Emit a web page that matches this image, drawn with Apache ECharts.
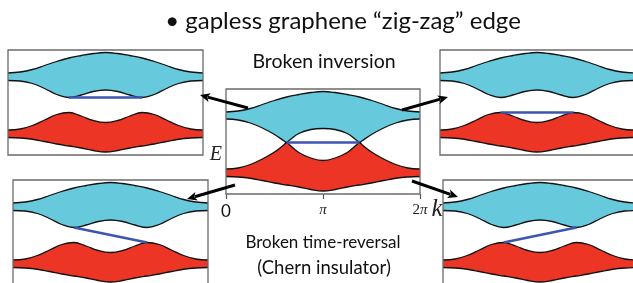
<!DOCTYPE html>
<html>
<head>
<meta charset="utf-8">
<script src="https://cdn.jsdelivr.net/npm/echarts@6/dist/echarts.min.js"></script>
<style>
html, body { margin: 0; padding: 0; background: #fff; }
#chart-one { width: 633px; height: 283px; }
</style>
</head>
<body>
<div id="chart-one"></div>
<script>
// k in units of pi, E in arbitrary units (box spans -1.05 .. 1.05)
var kPts = [0, 0.125, 0.25, 0.375, 0.5, 0.625, 0.75, 0.875, 1, 1.125, 1.25, 1.375, 1.5, 1.625, 1.75, 1.875, 2];
var cyanTop = [0.59, 0.61, 0.66, 0.74, 0.82, 0.89, 0.94, 0.98, 1.00, 0.98, 0.94, 0.89, 0.82, 0.74, 0.66, 0.61, 0.59];
var cyanBotGap = [0.44, 0.43, 0.38, 0.28, 0.16, 0.10, 0.15, 0.22, 0.25, 0.22, 0.15, 0.10, 0.16, 0.28, 0.38, 0.43, 0.44];
var redTopGap = [-0.55, -0.53, -0.46, -0.35, -0.24, -0.20, -0.27, -0.36, -0.40, -0.36, -0.27, -0.20, -0.24, -0.35, -0.46, -0.53, -0.55];
var redBot = [-0.70, -0.71, -0.735, -0.78, -0.83, -0.87, -0.91, -0.96, -0.99, -0.96, -0.91, -0.87, -0.83, -0.78, -0.735, -0.71, -0.70];

// central panel: bands touch at the two crossings
var kCenter = [0, 0.125, 0.25, 0.375, 0.5, 0.6, 0.625, 0.65, 0.75, 0.875, 1, 1.125, 1.25, 1.35, 1.375, 1.4, 1.5, 1.625, 1.75, 1.875, 2];
var cyanBotCross = [0.45, 0.43, 0.37, 0.27, 0.14, 0.01, -0.02, 0.02, 0.16, 0.24, 0.26, 0.24, 0.16, 0.02, -0.02, 0.01, 0.14, 0.27, 0.37, 0.43, 0.45];
var redTopCross = [-0.55, -0.53, -0.46, -0.35, -0.21, -0.06, -0.02, -0.06, -0.22, -0.33, -0.38, -0.33, -0.22, -0.06, -0.02, -0.06, -0.21, -0.35, -0.46, -0.53, -0.55];

// edge states (blue)
var edgeCenter = [[0.625, -0.02], [1.375, -0.02]];
var edgeTopLeft = [[0.625, 0.10], [1.375, 0.10]];
var edgeTopRight = [[0.625, -0.20], [1.375, -0.20]];
var edgeBottomLeft = [[0.625, 0.10], [1.375, -0.20]];
var edgeBottomRight = [[0.625, -0.20], [1.375, 0.10]];

var kTicks = [0, 1, 2];
var kTickLabels = ['{s|0}', '{m|π}', '{n|2}{m|π}'];

var CYAN = '#67c9dc';
var RED = '#ec3525';
var BLUE = '#3d55b2';

function curve(ks, es) {
	return ks.map(function(k, i){ return [k, es[i]]; });
}

var panels = [
	{ box: [226, 89, 194, 105], cyanBot: curve(kCenter, cyanBotCross), redTop: curve(kCenter, redTopCross), edge: edgeCenter, axes: true },
	{ box: [8, 50, 195, 105], cyanBot: curve(kPts, cyanBotGap), redTop: curve(kPts, redTopGap), edge: edgeTopLeft },
	{ box: [440, 50, 194, 105], cyanBot: curve(kPts, cyanBotGap), redTop: curve(kPts, redTopGap), edge: edgeTopRight },
	{ box: [13, 180, 195, 105], cyanBot: curve(kPts, cyanBotGap), redTop: curve(kPts, redTopGap), edge: edgeBottomLeft },
	{ box: [443, 180, 194, 105], cyanBot: curve(kPts, cyanBotGap), redTop: curve(kPts, redTopGap), edge: edgeBottomRight }
];

var LinesChart = function(){
	this.mychart = echarts.init(document.getElementById('chart-one'));

	this.initChart = function(){
		var grids = [], xAxes = [], yAxes = [], series = [], graphic = [];

		panels.forEach(function(p, i){
			grids.push({ left: p.box[0], top: p.box[1], width: p.box[2], height: p.box[3], outerBoundsMode: 'none', containLabel: false });

			xAxes.push({
				gridIndex: i, type: 'value', min: 0, max: 2, interval: 1,
				show: !!p.axes,
				position: 'bottom',
				axisLine: { show: false, onZero: false },
				axisTick: { show: true, length: 5, lineStyle: { color: '#555', width: 1.2 } },
				splitLine: { show: false },
				axisLabel: {
					margin: 9,
					formatter: function(v){ return kTickLabels[kTicks.indexOf(v)]; },
					rich: {
						s: { fontFamily: 'Lato', fontSize: 17, color: '#111' },
						n: { fontFamily: 'Liberation Serif', fontSize: 15, color: '#222' },
						m: { fontFamily: 'Liberation Serif', fontStyle: 'italic', fontSize: 15, color: '#222' }
					}
				},
				name: p.axes ? 'k' : '',
				nameLocation: 'end',
				nameGap: 8,
				nameTextStyle: { fontFamily: 'Liberation Serif', fontStyle: 'italic', fontSize: 25, color: '#222', verticalAlign: 'top', padding: [3, 0, 0, 0] }
			});

			yAxes.push({
				gridIndex: i, type: 'value', min: -1.05, max: 1.05,
				show: !!p.axes,
				axisLine: { show: false, onZero: false }, axisTick: { show: false }, axisLabel: { show: false },
				splitLine: { show: false },
				name: p.axes ? 'E' : '',
				nameLocation: 'middle',
				nameRotate: 0,
				nameGap: 4,
				nameTextStyle: { fontFamily: 'Liberation Serif', fontStyle: 'italic', fontSize: 20, color: '#222', verticalAlign: 'top', padding: [3, 0, 0, 0] }
			});

			var base = { type: 'line', xAxisIndex: i, yAxisIndex: i, symbol: 'none', smooth: 0.4, silent: true,
				lineStyle: { color: '#111', width: 1.3 } };
			// paint order: cyan fill, white gap, red fill, white below
			series.push(Object.assign({}, base, { data: curve(kPts, cyanTop), areaStyle: { color: CYAN, opacity: 1, origin: 'start' } }));
			series.push(Object.assign({}, base, { data: p.cyanBot, areaStyle: { color: '#fff', opacity: 1, origin: 'start' } }));
			series.push(Object.assign({}, base, { data: p.redTop, areaStyle: { color: RED, opacity: 1, origin: 'start' } }));
			series.push(Object.assign({}, base, { data: curve(kPts, redBot), areaStyle: { color: '#fff', opacity: 1, origin: 'start' } }));
			series.push({ type: 'line', xAxisIndex: i, yAxisIndex: i, symbol: 'none', silent: true,
				data: p.edge, lineStyle: { color: BLUE, width: 2.6 } });

			graphic.push({ type: 'rect', z: 100, silent: true,
				shape: { x: p.box[0], y: p.box[1], width: p.box[2], height: p.box[3] },
				style: { fill: 'transparent', stroke: '#6a6a6a', lineWidth: 1.3 } });
		});

		// arrows from the central panel to the four cases
		var arrows = [[248, 108, 200, 95], [402, 110, 448, 97], [235, 185, 187, 199], [412, 181, 458, 197]];
		arrows.forEach(function(a){
			var dx = a[2] - a[0], dy = a[3] - a[1], len = Math.sqrt(dx * dx + dy * dy);
			var ux = dx / len, uy = dy / len, hl = 10, hw = 4.5;
			var bx = a[2] - ux * hl, by = a[3] - uy * hl;
			graphic.push({ type: 'line', z: 110, silent: true,
				shape: { x1: a[0], y1: a[1], x2: bx + ux * 2, y2: by + uy * 2 },
				style: { stroke: '#000', lineWidth: 3 } });
			graphic.push({ type: 'polygon', z: 110, silent: true,
				shape: { points: [[a[2], a[3]], [bx - uy * hw, by + ux * hw], [bx + ux * 2.5, by + uy * 2.5], [bx + uy * hw, by - ux * hw]] },
				style: { fill: '#000' } });
		});

		var texts = [
			['• gapless graphene “zig-zag” edge', 343, 21, 24],
			['Broken inversion', 324, 62, 19.5],
			['Broken time-reversal', 323, 243, 17],
			['(Chern insulator)', 324, 268, 18.5]
		];
		texts.forEach(function(t){
			graphic.push({ type: 'text', z: 120, silent: true, x: t[1], y: t[2],
				style: { text: t[0], fontFamily: 'Lato', fontSize: t[3], fill: '#111', align: 'center', verticalAlign: 'middle' } });
		});

		var option = {
			animation: false,
			backgroundColor: '#fff',
			grid: grids,
			xAxis: xAxes,
			yAxis: yAxes,
			series: series,
			graphic: graphic
		};

		this.mychart.setOption(option);
	};
};

var chart = new LinesChart();
chart.initChart();
</script>
</body>
</html>
